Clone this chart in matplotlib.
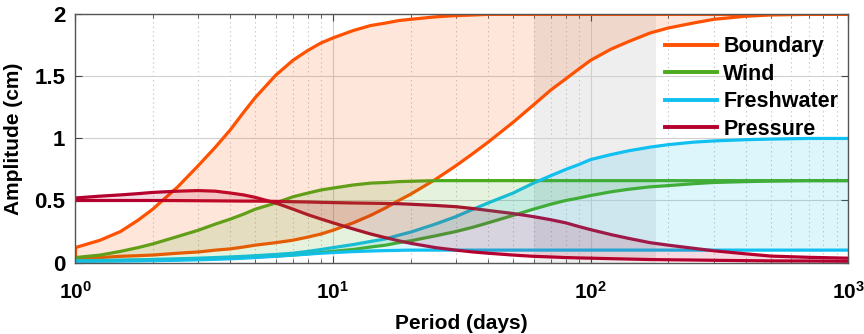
import numpy as np
import matplotlib
matplotlib.use("Agg")
import matplotlib.pyplot as plt

plt.rcParams['font.family'] = ['Liberation Sans', 'DejaVu Sans']
plt.rcParams['font.weight'] = 'bold'
plt.rcParams['mathtext.fontset'] = 'custom'
plt.rcParams['mathtext.rm'] = 'Liberation Sans:bold'
plt.rcParams['mathtext.bf'] = 'Liberation Sans:bold'

# values (period in days, amplitude in cm)
period = [1, 1.25, 1.5, 1.75, 2, 2.5, 3, 3.5, 4, 4.5, 5, 6, 7, 8, 9, 10, 12, 14, 16, 18, 20,
          25, 30, 35, 40, 50, 60, 70, 80, 90, 100, 120, 140, 170, 200, 250, 300, 400, 500,
          700, 1000]

boundary_hi = [0.12, 0.18, 0.25, 0.34, 0.43, 0.61, 0.78, 0.93, 1.07, 1.21, 1.33, 1.51, 1.63,
               1.71, 1.77, 1.81, 1.87, 1.91, 1.93, 1.95, 1.96, 1.98, 1.99, 1.995, 2.0, 2.0,
               2.0, 2.0, 2.0, 2.0, 2.0, 2.0, 2.0, 2.0, 2.0, 2.0, 2.0, 2.0, 2.0, 2.0, 2.0]
boundary_lo = [0.035, 0.04, 0.05, 0.055, 0.06, 0.075, 0.085, 0.10, 0.11, 0.125, 0.14, 0.16,
               0.18, 0.205, 0.23, 0.26, 0.32, 0.38, 0.44, 0.50, 0.55, 0.67, 0.78, 0.88, 0.97,
               1.13, 1.27, 1.39, 1.48, 1.56, 1.63, 1.72, 1.78, 1.85, 1.89, 1.93, 1.96, 1.985,
               1.995, 2.0, 2.0]
wind_hi = [0.04, 0.06, 0.09, 0.12, 0.15, 0.21, 0.26, 0.31, 0.35, 0.39, 0.43, 0.48, 0.53, 0.56,
           0.585, 0.60, 0.625, 0.64, 0.645, 0.652, 0.655, 0.66, 0.66, 0.66, 0.66, 0.66, 0.66,
           0.66, 0.66, 0.66, 0.66, 0.66, 0.66, 0.66, 0.66, 0.66, 0.66, 0.66, 0.66, 0.66, 0.66]
wind_lo = [0.012, 0.014, 0.016, 0.018, 0.02, 0.024, 0.028, 0.032, 0.035, 0.04, 0.045, 0.052,
           0.06, 0.07, 0.08, 0.09, 0.105, 0.125, 0.14, 0.16, 0.175, 0.215, 0.25, 0.285, 0.32,
           0.38, 0.43, 0.47, 0.50, 0.52, 0.54, 0.57, 0.59, 0.61, 0.62, 0.635, 0.645, 0.652,
           0.656, 0.66, 0.66]
fresh_hi = [0.015, 0.017, 0.02, 0.022, 0.025, 0.03, 0.035, 0.04, 0.045, 0.05, 0.055, 0.065,
            0.075, 0.09, 0.105, 0.12, 0.145, 0.17, 0.19, 0.22, 0.245, 0.31, 0.37, 0.43, 0.48,
            0.56, 0.64, 0.70, 0.75, 0.79, 0.83, 0.87, 0.90, 0.93, 0.95, 0.97, 0.98, 0.99,
            0.995, 1.0, 1.0]
fresh_lo = [0.01, 0.011, 0.012, 0.013, 0.015, 0.018, 0.022, 0.026, 0.03, 0.035, 0.04, 0.05,
            0.06, 0.068, 0.075, 0.08, 0.088, 0.093, 0.096, 0.098, 0.1, 0.1, 0.1, 0.1, 0.1, 0.1,
            0.1, 0.1, 0.1, 0.1, 0.1, 0.1, 0.1, 0.1, 0.1, 0.1, 0.1, 0.1, 0.1, 0.1, 0.1]
pressure_a = [0.52, 0.535, 0.545, 0.555, 0.565, 0.575, 0.58, 0.575, 0.56, 0.545, 0.525, 0.48,
              0.43, 0.385, 0.35, 0.32, 0.27, 0.23, 0.20, 0.175, 0.155, 0.12, 0.10, 0.085,
              0.075, 0.06, 0.05, 0.045, 0.04, 0.037, 0.035, 0.031, 0.028, 0.024, 0.022, 0.02,
              0.018, 0.015, 0.013, 0.012, 0.01]
pressure_b = [0.50, 0.50, 0.50, 0.50, 0.50, 0.499, 0.498, 0.497, 0.496, 0.495, 0.495, 0.493,
              0.49, 0.488, 0.485, 0.483, 0.48, 0.478, 0.476, 0.474, 0.47, 0.46, 0.45, 0.435,
              0.42, 0.395, 0.37, 0.345, 0.32, 0.29, 0.265, 0.225, 0.195, 0.16, 0.14, 0.115,
              0.095, 0.07, 0.052, 0.042, 0.035]

names = ["Boundary", "Wind", "Freshwater", "Pressure"]
colors = ["#ff5100", "#4aab1c", "#10c0f0", "#b5002f"]
band = [60, 180]
xticks = [1, 10, 100, 1000]
xticklabels = [r"$\mathbf{10^{0}}$", r"$\mathbf{10^{1}}$", r"$\mathbf{10^{2}}$", r"$\mathbf{10^{3}}$"]
yticks = [0, 0.5, 1, 1.5, 2]
yticklabels = ["0", "0.5", "1", "1.5", "2"]

pairs = [(boundary_hi, boundary_lo), (wind_hi, wind_lo), (fresh_hi, fresh_lo),
         (pressure_a, pressure_b)]

fig = plt.figure(figsize=(8.64, 3.34), dpi=100)
ax = fig.add_axes([0.087, 0.214, 0.895, 0.743])

ax.axvspan(band[0], band[1], color="#e4e4e4", alpha=0.6, lw=0, zorder=0)

for (hi, lo), c, name in zip(pairs, colors, names):
    ax.plot(period, hi, color=c, lw=2.3, label=name, zorder=3)
    ax.plot(period, lo, color=c, lw=2.3, zorder=3)
    ax.plot([period[0], period[0]], [lo[0], hi[0]], color=c, lw=2.3, zorder=3)
for (hi, lo), c in zip(pairs, colors):
    ax.fill_between(period, hi, lo, color=c, alpha=0.14, lw=0, zorder=4)

ax.set_xscale("log")
ax.set_xlim(1, 1000)
ax.set_ylim(0, 2)
ax.set_xticks(xticks)
ax.set_xticklabels(xticklabels)
ax.set_yticks(yticks)
ax.set_yticklabels(yticklabels)
ax.tick_params(axis="both", which="major", direction="in", labelsize=16, length=5,
               top=True, right=True, color="#444444")
ax.tick_params(axis="x", which="major", pad=13, labelsize=15)
ax.tick_params(axis="y", which="major", pad=7)
ax.tick_params(axis="x", which="minor", direction="in", length=3, top=True, color="#444444")
ax.grid(True, which="major", color="#d0d0d0", lw=0.8, zorder=1)
ax.grid(True, which="minor", axis="x", color="#bdbdbd", lw=0.8, ls=(0, (1, 3)), zorder=1)
ax.set_axisbelow(True)
for s in ax.spines.values():
    s.set_color("#555555")
    s.set_linewidth(1.0)
    s.set_zorder(6)

ax.set_xlabel("Period (days)", fontsize=15, fontweight="bold", labelpad=8)
ax.set_ylabel("Amplitude (cm)", fontsize=15, fontweight="bold", labelpad=8)

leg = ax.legend(loc="upper right", bbox_to_anchor=(1.012, 0.99), frameon=False, fontsize=15.5,
                handlelength=2.4, handletextpad=0.3, labelspacing=0.3)
for line in leg.get_lines():
    line.set_linewidth(2.8)

fig.savefig("out.png", dpi=100)
